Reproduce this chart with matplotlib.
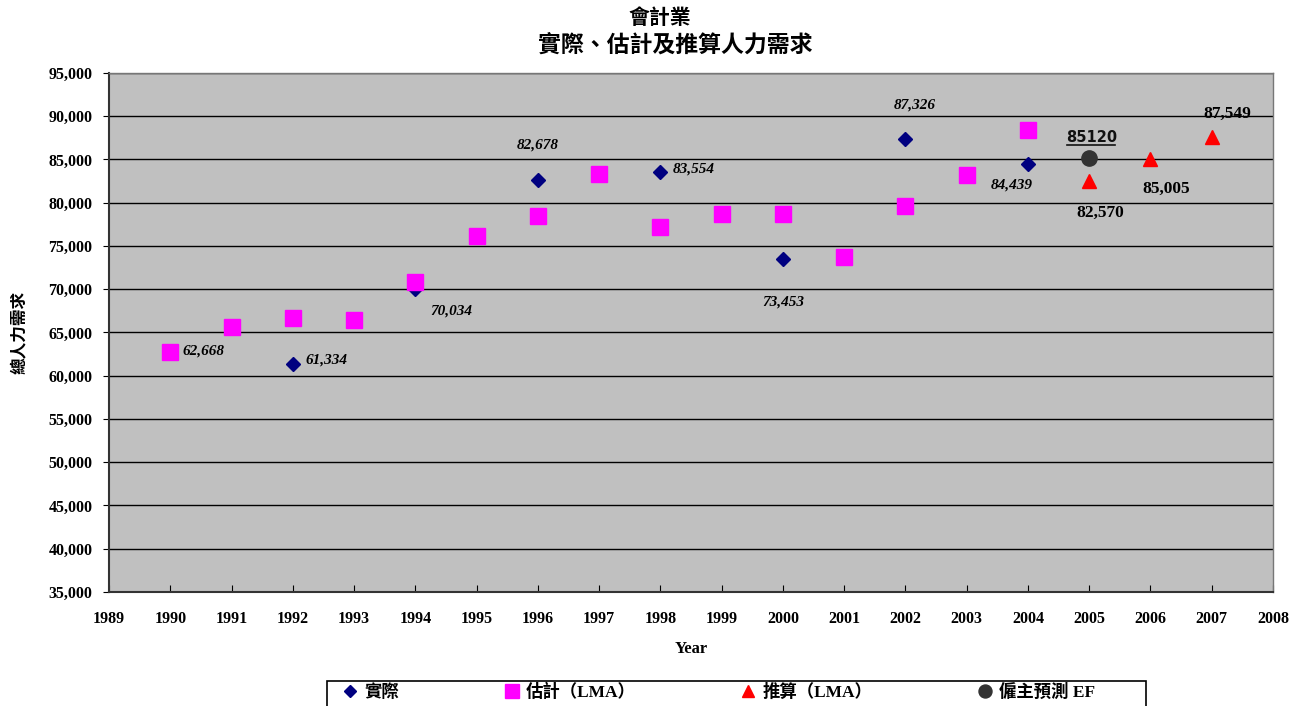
import matplotlib
matplotlib.use("Agg")
import matplotlib.pyplot as plt
from matplotlib.patches import Rectangle
from matplotlib.ticker import FuncFormatter, MultipleLocator

plt.rcParams['font.family'] = ['Liberation Serif', 'Noto Sans CJK TC', 'DejaVu Sans']

# Data
actual_years = [1990, 1992, 1994, 1996, 1998, 2000, 2002, 2004]
actual_vals = [62668, 61334, 70034, 82678, 83554, 73453, 87326, 84439]

est_years = [1990, 1991, 1992, 1993, 1994, 1995, 1996, 1997, 1998, 1999, 2000, 2001, 2002, 2003, 2004]
est_vals = [62800, 65650, 66650, 66450, 70850, 76150, 78450, 83350, 77200, 78700, 78700, 73750, 79600, 83200, 88400]

proj_years = [2005, 2006, 2007]
proj_vals = [82570, 85005, 87549]

ef_years = [2005]
ef_vals = [85120]

title_lines = ["會計業", "實際、估計及推算人力需求"]
legend_labels = ["實際", "估計（LMA）", "推算（LMA）", "僱主預測 EF"]

fig = plt.figure(figsize=(12.99, 7.06), dpi=100)
ax = fig.add_axes([0.0839, 0.1615, 0.8961, 0.7351])
ax.set_facecolor('#C0C0C0')

h1, = ax.plot(actual_years, actual_vals, 'D', color='#000080', markersize=7, linestyle='none', zorder=4)
h2, = ax.plot(est_years, est_vals, 's', color='#FF00FF', markersize=12, linestyle='none', zorder=5)
h3, = ax.plot(proj_years, proj_vals, '^', color='#FF0000', markersize=10, linestyle='none', zorder=3)
h4, = ax.plot(ef_years, ef_vals, 'o', color='#333333', markersize=11, linestyle='none', zorder=3)

ax.set_xlim(1989, 2008)
ax.set_ylim(35000, 95000)
ax.xaxis.set_major_locator(MultipleLocator(1))
ax.yaxis.set_major_locator(MultipleLocator(5000))
ax.yaxis.set_major_formatter(FuncFormatter(lambda v, p: f"{int(v):,}"))
ax.grid(axis='y', color='black', linewidth=1.0)
ax.set_axisbelow(True)
ax.tick_params(axis='x', direction='in', length=5, pad=14, labelsize=11.5)
ax.tick_params(axis='y', direction='out', length=4, pad=8, labelsize=11.5)
for lab in ax.get_xticklabels() + ax.get_yticklabels():
    lab.set_fontweight('bold')
for s in ['left', 'bottom']:
    ax.spines[s].set_linewidth(1.5)
    ax.spines[s].set_color('#333333')
for s in ['top', 'right']:
    ax.spines[s].set_color('#777777')
    ax.spines[s].set_linewidth(1.0)

ax.set_xlabel("Year", fontsize=12, fontweight='bold', labelpad=10)
ax.set_ylabel("總人力需求", fontsize=12, fontweight='bold',
              family=['Noto Sans CJK TC'], labelpad=15)

# Annotations for actual values
act_offsets = [(9, 1), (9, 3), (11, -16), (0, 25), (9, 2), (0, -31), (7, 25), (-12, -15)]
for x, v, off in zip(actual_years, actual_vals, act_offsets):
    ax.annotate(f"{v:,}", (x, v), xytext=off, textcoords='offset points',
                fontsize=11, fontweight='bold', style='italic',
                ha='left' if off[0] > 8 else 'center', va='center', zorder=6)

proj_offsets = [(8, -23), (11, -21), (11, 17)]
for x, v, off in zip(proj_years, proj_vals, proj_offsets):
    ax.annotate(f"{v:,}", (x, v), xytext=off, textcoords='offset points',
                fontsize=12.5, fontweight='bold', ha='center', va='center')

for x, v in zip(ef_years, ef_vals):
    ax.annotate(f"{v}", (x, v), xytext=(2, 15), textcoords='offset points',
                fontsize=10.5, fontweight='bold', family=['DejaVu Sans'],
                ha='center', va='center', color='#111111')
    ax.plot([x - 0.36, x + 0.42], [v + 1600, v + 1600], color='#111111', linewidth=1.2)

fig.text(660 / 1299, 1 - 18 / 706, title_lines[0], ha='center', va='center', fontsize=15,
         fontweight='bold', family=['Noto Sans CJK TC'])
fig.text(675 / 1299, 1 - 45 / 706, title_lines[1], ha='center', va='center', fontsize=16.5,
         fontweight='bold', family=['Noto Sans CJK TC'])

# Legend frame (extends past bottom edge as in the reference)
frame = Rectangle((327 / 1299, -0.02), 819 / 1299, (706 - 681) / 706 + 0.02,
                  transform=fig.transFigure, facecolor='white', edgecolor='black',
                  linewidth=1.2, zorder=1)
fig.patches.append(frame)

leg = fig.legend([h1, h2, h3, h4], legend_labels, loc='upper left',
                 bbox_to_anchor=(336.5 / 1299, 1 - 678 / 706),
                 ncol=4, frameon=False, handletextpad=0.3,
                 handlelength=1.0, columnspacing=6.0, borderpad=0.3,
                 borderaxespad=0.0,
                 prop={'family': ['Liberation Serif', 'Noto Sans CJK TC'], 'weight': 'bold', 'size': 12.5},
                 markerscale=0.85)
leg.set_zorder(2)

fig.savefig("out.png", dpi=100)
